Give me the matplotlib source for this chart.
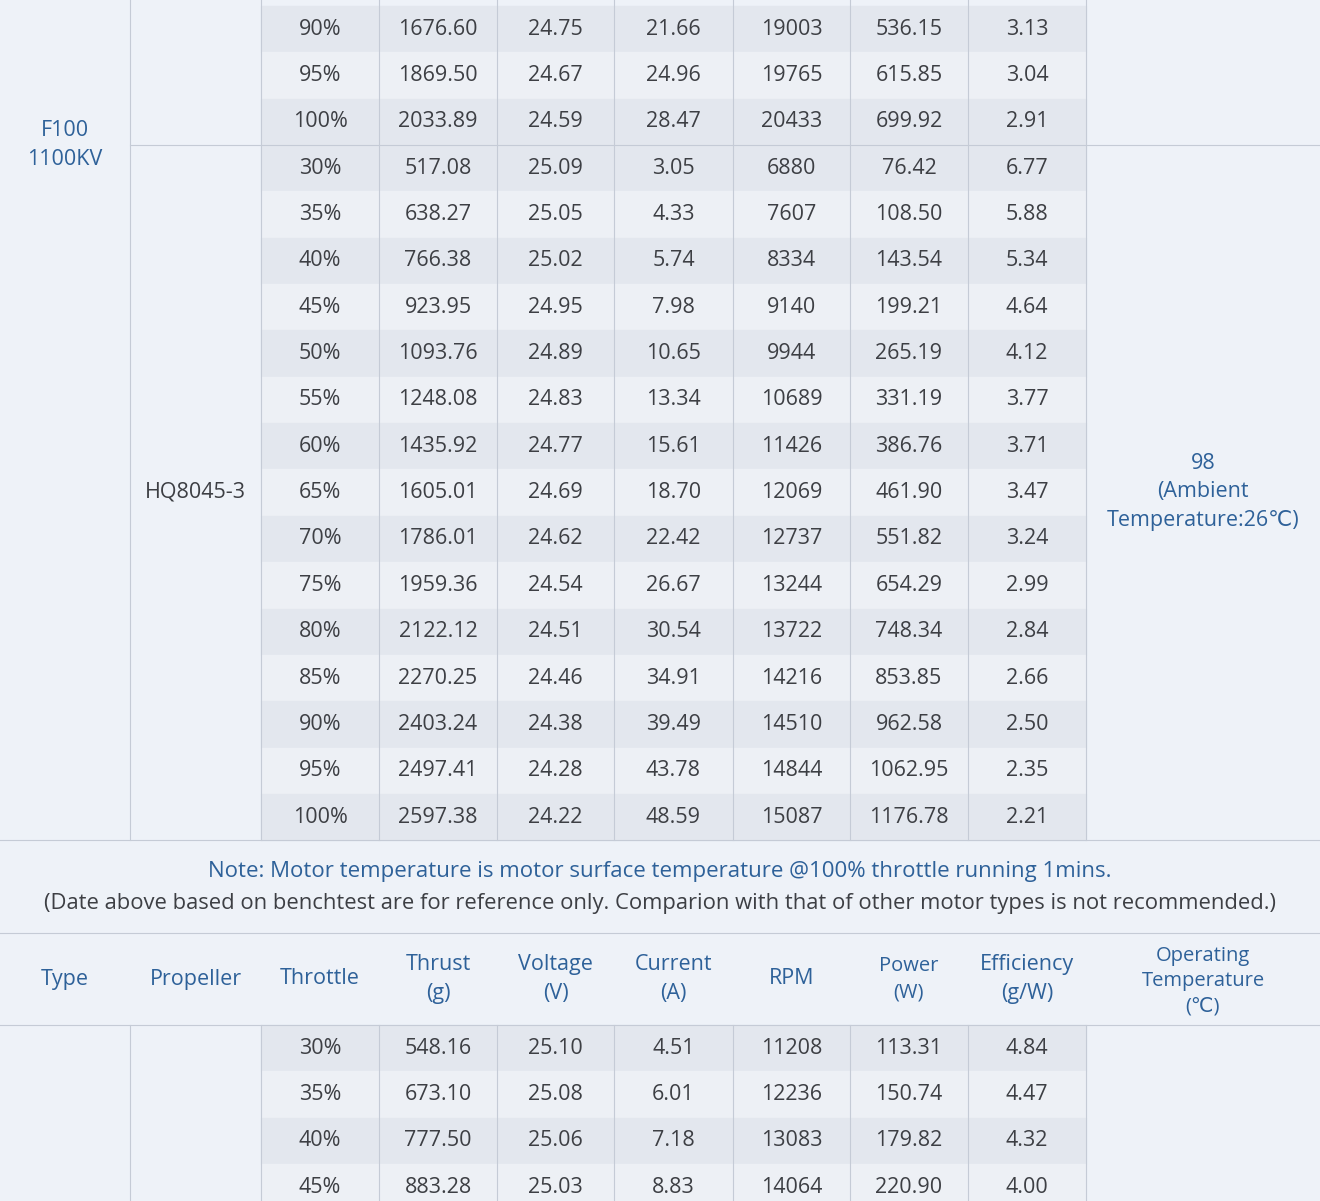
import matplotlib
matplotlib.use("Agg")
import matplotlib.pyplot as plt
from matplotlib.patches import Rectangle

# ---- data ----
headers = ["Type", "Propeller", "Throttle", "Thrust\n(g)", "Voltage\n(V)", "Current\n(A)", "RPM",
           "Power\n(W)", "Efficiency\n(g/W)", "Operating\nTemperature\n(℃)"]
block1_throttle = ["90%", "95%", "100%"]
block1_thrust = ["1676.60", "1869.50", "2033.89"]
block1_voltage = ["24.75", "24.67", "24.59"]
block1_current = ["21.66", "24.96", "28.47"]
block1_rpm = ["19003", "19765", "20433"]
block1_power = ["536.15", "615.85", "699.92"]
block1_eff = ["3.13", "3.04", "2.91"]

block2_throttle = ["30%", "35%", "40%", "45%", "50%", "55%", "60%", "65%", "70%", "75%",
                   "80%", "85%", "90%", "95%", "100%"]
block2_thrust = ["517.08", "638.27", "766.38", "923.95", "1093.76", "1248.08", "1435.92", "1605.01",
                 "1786.01", "1959.36", "2122.12", "2270.25", "2403.24", "2497.41", "2597.38"]
block2_voltage = ["25.09", "25.05", "25.02", "24.95", "24.89", "24.83", "24.77", "24.69",
                  "24.62", "24.54", "24.51", "24.46", "24.38", "24.28", "24.22"]
block2_current = ["3.05", "4.33", "5.74", "7.98", "10.65", "13.34", "15.61", "18.70",
                  "22.42", "26.67", "30.54", "34.91", "39.49", "43.78", "48.59"]
block2_rpm = ["6880", "7607", "8334", "9140", "9944", "10689", "11426", "12069",
              "12737", "13244", "13722", "14216", "14510", "14844", "15087"]
block2_power = ["76.42", "108.50", "143.54", "199.21", "265.19", "331.19", "386.76", "461.90",
                "551.82", "654.29", "748.34", "853.85", "962.58", "1062.95", "1176.78"]
block2_eff = ["6.77", "5.88", "5.34", "4.64", "4.12", "3.77", "3.71", "3.47",
              "3.24", "2.99", "2.84", "2.66", "2.50", "2.35", "2.21"]

block3_throttle = ["30%", "35%", "40%", "45%"]
block3_thrust = ["548.16", "673.10", "777.50", "883.28"]
block3_voltage = ["25.10", "25.08", "25.06", "25.03"]
block3_current = ["4.51", "6.01", "7.18", "8.83"]
block3_rpm = ["11208", "12236", "13083", "14064"]
block3_power = ["113.31", "150.74", "179.82", "220.90"]
block3_eff = ["4.84", "4.47", "4.32", "4.00"]

motor_type = "F100\n1100KV"
propeller2 = "HQ8045-3"
temperature2 = "98\n(Ambient\nTemperature:26℃)"
note1 = "Note: Motor temperature is motor surface temperature @100% throttle running 1mins."
note2 = "(Date above based on benchtest are for reference only. Comparion with that of other motor types is not recommended.)"

# ---- layout ----
W, H = 1320, 1201
cols = [0, 130, 261, 379, 497, 614, 733, 850, 968, 1086, 1320]
RH = 46.35
BG = "#eef2f8"
DARK = "#e3e7ee"
LIGHT = "#edf0f5"
LINE = "#c5cbd6"
TXT = "#3d3f44"
BLUE = "#2e6199"
FONT = ["Open Sans", "DejaVu Sans"]
FS = 15.5

fig = plt.figure(figsize=(W / 100, H / 100), dpi=100)
ax = fig.add_axes([0, 0, 1, 1])
ax.set_xlim(0, W)
ax.set_ylim(H, 0)
ax.axis("off")
ax.add_patch(Rectangle((0, 0), W, H, color=BG, zorder=0))

def cx(i):
    return (cols[i] + cols[i + 1]) / 2

def draw_block(top, data):
    n = len(data[0])
    for r in range(n):
        y0 = top + r * RH
        color = DARK if r % 2 == 0 else LIGHT
        ax.add_patch(Rectangle((cols[2], y0), cols[9] - cols[2], RH, color=color, zorder=1))
        for k, arr in enumerate(data):
            ax.text(cx(2 + k), y0 + RH / 2, arr[r], ha="center", va="center",
                    fontsize=FS, color=TXT, family=FONT, zorder=3)
    return top + n * RH

top1 = 145 - 3 * RH
d1 = [block1_throttle, block1_thrust, block1_voltage, block1_current, block1_rpm, block1_power, block1_eff]
d2 = [block2_throttle, block2_thrust, block2_voltage, block2_current, block2_rpm, block2_power, block2_eff]
d3 = [block3_throttle, block3_thrust, block3_voltage, block3_current, block3_rpm, block3_power, block3_eff]
draw_block(top1, d1)
draw_block(145, d2)
hdr_top, hdr_bot = 933, 1025
draw_block(hdr_bot, d3)

for x in cols[1:10]:
    ax.plot([x, x], [0, 840], color=LINE, lw=0.8, zorder=2)
    ax.plot([x, x], [hdr_bot, H], color=LINE, lw=0.8, zorder=2)
ax.plot([cols[1], W], [145, 145], color=LINE, lw=0.8, zorder=2)
for y in [840, hdr_top, hdr_bot]:
    ax.plot([0, W], [y, y], color=LINE, lw=0.8, zorder=2)

ax.text(cx(0), 145, motor_type, ha="center", va="center", fontsize=FS, color=BLUE,
        family=FONT, linespacing=1.45, zorder=3)
ax.text(cx(1), 492, propeller2, ha="center", va="center", fontsize=FS, color=TXT, family=FONT, zorder=3)
ax.text(cx(9), 492, temperature2, ha="center", va="center", fontsize=FS, color=BLUE,
        family=FONT, linespacing=1.45, zorder=3)

ax.text(W / 2, 872, note1, ha="center", va="center", fontsize=16, color=BLUE, family=FONT)
ax.text(W / 2, 903, note2, ha="center", va="center", fontsize=15.8, color=TXT, family=FONT)

for i, h in enumerate(headers):
    multi3 = h.count("\n") == 2
    fs = 14.5 if (multi3 or h.startswith("Power")) else FS
    ax.text(cx(i), (hdr_top + hdr_bot) / 2 + (2 if multi3 else 0), h, ha="center", va="center",
            fontsize=fs, color=BLUE, family=FONT,
            linespacing=1.45 if not multi3 else 1.35)

fig.savefig("out.png", dpi=100)
